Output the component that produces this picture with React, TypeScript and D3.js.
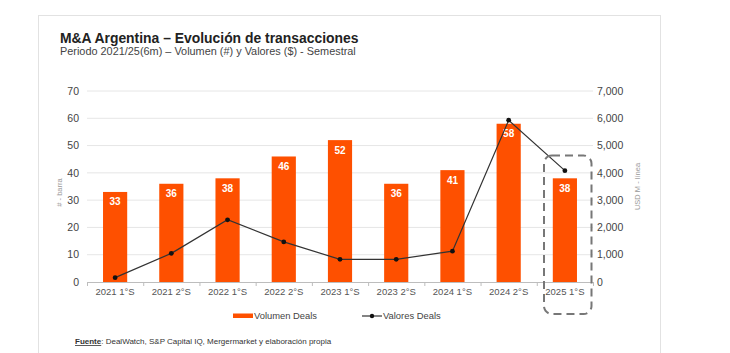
import React, { useRef, useEffect } from 'react';
import * as d3 from 'd3';

const categories = ['2021 1°S', '2021 2°S', '2022 1°S', '2022 2°S', '2023 1°S', '2023 2°S', '2024 1°S', '2024 2°S', '2025 1°S'];
const volumenDeals = [33, 36, 38, 46, 52, 36, 41, 58, 38];
const valoresDeals = [160, 1050, 2280, 1470, 830, 830, 1130, 5930, 4080];
const leftTicks = [0, 10, 20, 30, 40, 50, 60, 70];
const rightTicks = [0, 1000, 2000, 3000, 4000, 5000, 6000, 7000];

const W = 730;
const H = 353;
const ORANGE = '#fe5000';

const App: React.FC = () => {
  const svgRef = useRef<SVGSVGElement>(null);

  useEffect(() => {
    if (!svgRef.current) return;
    const svg = d3.select(svgRef.current);
    svg.selectAll('*').remove();

    const font = 'Liberation Sans, Arial, sans-serif';
    const plot = { left: 87, right: 593, top: 91, bottom: 282 };

    // frame
    svg.append('rect')
      .attr('x', 38.5).attr('y', 15.5)
      .attr('width', 622).attr('height', 360)
      .attr('fill', 'none').attr('stroke', '#e2e2e2');

    // titles
    svg.append('text')
      .attr('x', 60).attr('y', 42.5)
      .style('font-family', font).style('font-size', '13.9px').style('font-weight', 'bold')
      .style('fill', '#222')
      .text('M&A Argentina – Evolución de transacciones');
    svg.append('text')
      .attr('x', 60).attr('y', 55)
      .style('font-family', font).style('font-size', '10.9px')
      .style('fill', '#444')
      .text('Periodo 2021/25(6m) – Volumen (#) y Valores ($) - Semestral');

    const x = d3.scaleBand().domain(categories).range([plot.left, plot.right]).paddingInner(0).paddingOuter(0);
    const yL = d3.scaleLinear().domain([0, 70]).range([plot.bottom, plot.top]);
    const yR = d3.scaleLinear().domain([0, 7000]).range([plot.bottom, plot.top]);
    const barW = x.bandwidth() * 0.43;

    // gridlines
    svg.append('g').selectAll('line')
      .data(leftTicks.slice(1))
      .enter().append('line')
      .attr('x1', plot.left).attr('x2', plot.right)
      .attr('y1', d => yL(d)).attr('y2', d => yL(d))
      .attr('stroke', '#e6e6e6').attr('stroke-width', 1);

    // left axis labels
    svg.append('g').selectAll('text')
      .data(leftTicks)
      .enter().append('text')
      .attr('x', 79).attr('y', d => yL(d))
      .attr('dy', '0.35em').attr('text-anchor', 'end')
      .style('font-family', font).style('font-size', '10.5px').style('fill', '#444')
      .text(d => d);

    // right axis labels
    svg.append('g').selectAll('text')
      .data(rightTicks)
      .enter().append('text')
      .attr('x', 597).attr('y', d => yR(d))
      .attr('dy', '0.35em').attr('text-anchor', 'start')
      .style('font-family', font).style('font-size', '10.5px').style('fill', '#444')
      .text(d => d3.format(',')(d));

    // axis titles
    svg.append('text')
      .attr('transform', `translate(62,${(plot.top + plot.bottom) / 2 + 6}) rotate(-90)`)
      .attr('text-anchor', 'middle')
      .style('font-family', font).style('font-size', '7.5px').style('fill', '#999')
      .text('# - barra');
    svg.append('text')
      .attr('transform', `translate(640,${(plot.top + plot.bottom) / 2}) rotate(-90)`)
      .attr('text-anchor', 'middle')
      .style('font-family', font).style('font-size', '7.5px').style('fill', '#999')
      .text('USD M - línea');

    // bars
    svg.append('g').selectAll('rect')
      .data(volumenDeals)
      .enter().append('rect')
      .attr('x', (d, i) => (x(categories[i]) || 0) + x.bandwidth() / 2 - barW / 2)
      .attr('y', d => yL(d))
      .attr('width', barW)
      .attr('height', d => plot.bottom - yL(d))
      .attr('fill', ORANGE);

    svg.append('g').selectAll('text')
      .data(volumenDeals)
      .enter().append('text')
      .attr('x', (d, i) => (x(categories[i]) || 0) + x.bandwidth() / 2)
      .attr('y', d => yL(d) + 10)
      .attr('dy', '0.35em').attr('text-anchor', 'middle')
      .style('font-family', font).style('font-size', '10px').style('font-weight', 'bold')
      .style('fill', '#fff')
      .text(d => d);

    // x axis
    svg.append('line')
      .attr('x1', plot.left).attr('x2', plot.right)
      .attr('y1', plot.bottom + 0.5).attr('y2', plot.bottom + 0.5)
      .attr('stroke', '#bdbdbd');
    const boundaries = categories.map(c => x(c) || 0).concat([plot.right]);
    svg.append('g').selectAll('line')
      .data(boundaries)
      .enter().append('line')
      .attr('x1', d => d + 0.5).attr('x2', d => d + 0.5)
      .attr('y1', plot.bottom).attr('y2', plot.bottom + 4)
      .attr('stroke', '#bdbdbd');
    svg.append('g').selectAll('text')
      .data(categories)
      .enter().append('text')
      .attr('x', d => (x(d) || 0) + x.bandwidth() / 2)
      .attr('y', 292).attr('dy', '0.35em').attr('text-anchor', 'middle')
      .style('font-family', font).style('font-size', '9.5px').style('fill', '#555')
      .text(d => d);

    // line series
    const line = d3.line<number>()
      .x((d, i) => (x(categories[i]) || 0) + x.bandwidth() / 2)
      .y(d => yR(d));
    svg.append('path')
      .datum(valoresDeals)
      .attr('d', line)
      .attr('fill', 'none').attr('stroke', '#333').attr('stroke-width', 1.2);
    svg.append('g').selectAll('circle')
      .data(valoresDeals)
      .enter().append('circle')
      .attr('cx', (d, i) => (x(categories[i]) || 0) + x.bandwidth() / 2)
      .attr('cy', d => yR(d))
      .attr('r', 2.4).attr('fill', '#111');

    // dashed highlight around last period
    svg.append('rect')
      .attr('x', 544).attr('y', 155.5)
      .attr('width', 47.5).attr('height', 158.5)
      .attr('rx', 8).attr('ry', 8)
      .attr('fill', 'none').attr('stroke', '#777').attr('stroke-width', 2)
      .attr('stroke-dasharray', '8,5');

    // legend
    svg.append('rect')
      .attr('x', 233).attr('y', 313.5).attr('width', 20).attr('height', 4.5)
      .attr('fill', ORANGE);
    svg.append('text')
      .attr('x', 254).attr('y', 316).attr('dy', '0.35em')
      .style('font-family', font).style('font-size', '9.4px').style('fill', '#444')
      .text('Volumen Deals');
    svg.append('line')
      .attr('x1', 362).attr('x2', 382).attr('y1', 316).attr('y2', 316)
      .attr('stroke', '#333').attr('stroke-width', 1.2);
    svg.append('circle').attr('cx', 372).attr('cy', 316).attr('r', 2.2).attr('fill', '#111');
    svg.append('text')
      .attr('x', 383).attr('y', 316).attr('dy', '0.35em')
      .style('font-family', font).style('font-size', '9.4px').style('fill', '#444')
      .text('Valores Deals');

    // source
    const src = svg.append('text')
      .attr('x', 75).attr('y', 344)
      .style('font-family', font).style('font-size', '8px').style('fill', '#333');
    src.append('tspan').style('font-weight', 'bold').style('text-decoration', 'underline').text('Fuente');
    src.append('tspan').text(': DealWatch, S&P Capital IQ, Mergermarket y elaboración propia');
  }, []);

  return (
    <svg ref={svgRef} width={W} height={H} viewBox={`0 0 ${W} ${H}`}
      style={{ position: 'absolute', left: 0, top: 0, background: '#fff' }} />
  );
};

export default App;
